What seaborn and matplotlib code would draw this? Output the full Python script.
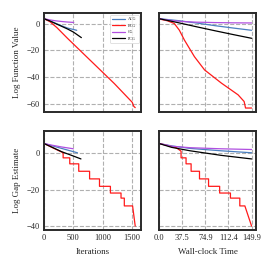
import pandas as pd
import matplotlib.pyplot as plt
import seaborn as sns

# series
methods = ["ACG", "BCG", "CG", "PCG"]
colors = ["#4a7fbf", "#ff1a1a", "#b04fe0", "black"]

# log function value vs iterations
fv_it_acg_x = [0, 100, 200, 300, 400, 558]
fv_it_acg_y = [3.7, 2.0, 0.2, -1.6, -3.3, -5.0]
fv_it_bcg_x = [0, 100, 220, 400, 800, 1200, 1504, 1530, 1555]
fv_it_bcg_y = [3.7, 1.5, -3.0, -11.0, -28.0, -45.0, -59.0, -62.0, -63.0]
fv_it_cg_x = [0, 100, 200, 300, 400, 507]
fv_it_cg_y = [3.7, 2.8, 2.1, 1.6, 1.2, 0.9]
fv_it_pcg_x = [0, 100, 200, 300, 400, 500, 637]
fv_it_pcg_y = [3.7, 2.0, 0.0, -2.0, -4.0, -6.3, -10.5]

# log function value vs time
fv_t_acg_x = [0, 30, 60, 90, 120, 149.9]
fv_t_acg_y = [3.7, 2.3, 0.5, -1.5, -3.3, -5.0]
fv_t_bcg_x = [0, 13.6, 24.5, 32.7, 40.9, 57.2, 73.6, 100.9, 128.0, 137.8, 140.1, 149.9]
fv_t_bcg_y = [3.5, 2.1, 0.1, -4.9, -12.3, -24.8, -34.7, -44.6, -53.4, -58.4, -63.3, -63.3]
fv_t_cg_x = [0, 15, 37, 60, 90, 120, 149.9]
fv_t_cg_y = [3.7, 2.6, 1.6, 1.1, 0.8, 0.6, 0.5]
fv_t_pcg_x = [0, 30, 60, 90, 120, 149.9]
fv_t_pcg_y = [3.7, 0.8, -2.3, -5.3, -8.2, -11.0]

# log gap estimate vs iterations
gap_it_acg_x = [0, 100, 200, 300, 400, 570]
gap_it_acg_y = [5.5, 4.6, 3.7, 2.8, 1.9, 0.4]
gap_it_bcg_x = [0, 326, 326, 439, 439, 592, 592, 777, 777, 946, 946,
                1132, 1132, 1313, 1313, 1369, 1369, 1510, 1555]
gap_it_bcg_y = [5.5, 0.4, -2.4, -2.4, -5.7, -5.7, -9.8, -9.8, -14.0, -14.0, -18.1,
                -18.1, -21.8, -21.8, -24.6, -24.6, -28.9, -28.9, -40.0]
gap_it_cg_x = [0, 100, 200, 300, 400, 500]
gap_it_cg_y = [5.5, 4.8, 4.2, 3.6, 3.1, 2.6]
gap_it_pcg_x = [0, 100, 200, 300, 400, 500, 630]
gap_it_pcg_y = [5.5, 4.0, 2.5, 1.0, -0.2, -1.4, -3.0]

# log gap estimate vs time
gap_t_acg_x = [0, 20, 50, 100, 149.9]
gap_t_acg_y = [5.5, 4.2, 2.8, 1.5, 0.4]
gap_t_bcg_x = [0, 27.7, 35.5, 35.5, 43.6, 43.6, 51.8, 51.8, 65.4, 65.4, 80.1, 80.1,
               98.1, 98.1, 115.6, 115.6, 130.8, 130.8, 139.0, 149.9]
gap_t_bcg_y = [5.5, 3.2, 1.3, -2.4, -2.4, -5.7, -5.7, -9.8, -9.8, -14.0, -14.0, -18.1,
               -18.1, -21.8, -21.8, -24.6, -24.6, -28.9, -28.9, -40.0]
gap_t_cg_x = [0, 20, 50, 100, 149.9]
gap_t_cg_y = [5.5, 4.0, 3.2, 2.6, 2.2]
gap_t_pcg_x = [0, 20, 50, 100, 149.9]
gap_t_pcg_y = [5.5, 3.4, 1.5, -1.0, -3.0]

it_ticks = [0, 500, 1000, 1500]
time_ticks = [0.0, 37.5, 74.9, 112.4, 149.9]
fv_ticks = [0, -20, -40, -60]
gap_ticks = [0, -20, -40]


def frame(series):
    rows = []
    for m, (xs, ys) in zip(methods, series):
        for i, (x, y) in enumerate(zip(xs, ys)):
            rows.append({"x": x, "y": y, "method": m, "order": i})
    return pd.DataFrame(rows)


panels = [
    [frame([(fv_it_acg_x, fv_it_acg_y), (fv_it_bcg_x, fv_it_bcg_y),
            (fv_it_cg_x, fv_it_cg_y), (fv_it_pcg_x, fv_it_pcg_y)]),
     frame([(fv_t_acg_x, fv_t_acg_y), (fv_t_bcg_x, fv_t_bcg_y),
            (fv_t_cg_x, fv_t_cg_y), (fv_t_pcg_x, fv_t_pcg_y)])],
    [frame([(gap_it_acg_x, gap_it_acg_y), (gap_it_bcg_x, gap_it_bcg_y),
            (gap_it_cg_x, gap_it_cg_y), (gap_it_pcg_x, gap_it_pcg_y)]),
     frame([(gap_t_acg_x, gap_t_acg_y), (gap_t_bcg_x, gap_t_bcg_y),
            (gap_t_cg_x, gap_t_cg_y), (gap_t_pcg_x, gap_t_pcg_y)])],
]

sns.set_style("white")
plt.rcParams["font.family"] = ["Liberation Serif", "DejaVu Serif"]

fig, axes = plt.subplots(2, 2, figsize=(2.7, 2.7), dpi=100)
fig.subplots_adjust(left=0.163, right=0.948, top=0.952, bottom=0.148,
                    wspace=0.19, hspace=0.2)

palette = dict(zip(methods, colors))
for r in range(2):
    for c in range(2):
        ax = axes[r, c]
        sns.lineplot(data=panels[r][c], x="x", y="y", hue="method", units="method",
                     estimator=None, sort=False, palette=palette, linewidth=0.9,
                     legend=(r == 0 and c == 0), ax=ax)
        ax.grid(True, linestyle="--", color="#b0b0b0", linewidth=0.8)
        for s in ax.spines.values():
            s.set_color("#2a2a2a")
            s.set_linewidth(1.4)
        ax.tick_params(length=0, labelsize=6, pad=3)
        ax.set_xlabel("")
        ax.set_ylabel("")
        if c == 0:
            ax.set_xlim(0, 1650)
            ax.set_xticks(it_ticks)
        else:
            ax.set_xlim(0, 157)
            ax.set_xticks(time_ticks)
            ax.set_xticklabels([f"{t:.1f}" for t in time_ticks])
        if r == 0:
            ax.set_ylim(-66, 8)
            ax.set_yticks(fv_ticks)
            ax.set_xticklabels([])
        else:
            ax.set_ylim(-42.2, 12.2)
            ax.set_yticks(gap_ticks)
        if c == 1:
            ax.set_yticklabels([])

axes[0, 0].set_ylabel("Log Function Value", fontsize=6.5)
axes[1, 0].set_ylabel("Log Gap Estimate", fontsize=6.5)
axes[1, 0].set_xlabel("Iterations", fontsize=6.5)
axes[1, 1].set_xlabel("Wall-clock Time", fontsize=6.5)

leg = axes[0, 0].legend(loc="upper right", fontsize=3.0, frameon=True,
                        handlelength=3, borderpad=0.5, labelspacing=0.6)
leg.get_frame().set_edgecolor("#cccccc")
leg.get_frame().set_linewidth(0.5)

fig.savefig("out.png", dpi=100)
